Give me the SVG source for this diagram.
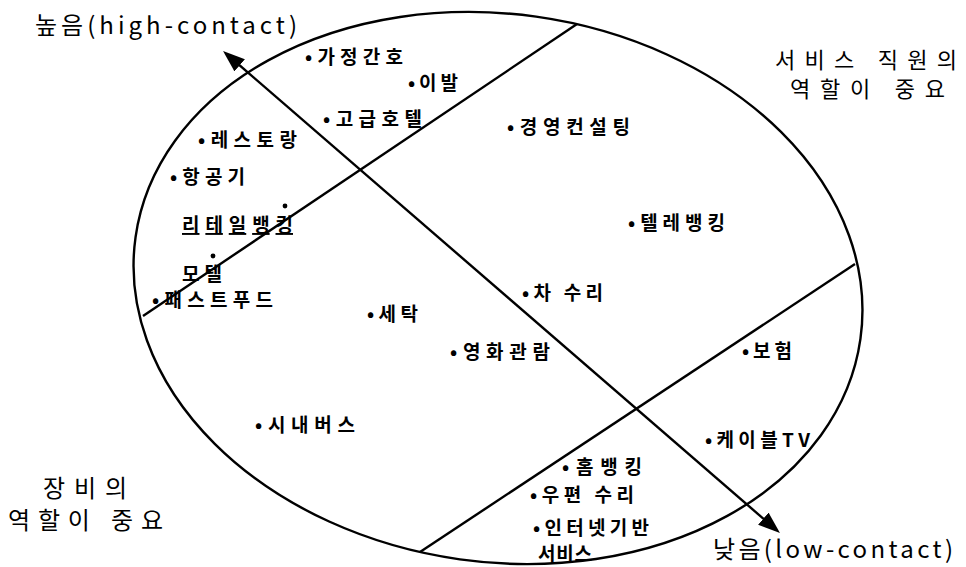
<svg xmlns="http://www.w3.org/2000/svg" width="966" height="567" viewBox="0 0 966 567">
<style>
.bg{fill:#fff}
.edge{fill:none;stroke:#000;stroke-width:2.4}
.item{font-family:"Noto Sans CJK KR","Noto Sans",sans-serif;font-size:19px;font-weight:700;fill:#000}
.corner{font-family:"Noto Sans CJK KR","Noto Sans",sans-serif;font-size:24px;font-weight:400;fill:#000}
.corner2{font-family:"Noto Sans CJK KR","Noto Sans",sans-serif;font-size:22px;font-weight:400;fill:#000}
.dot{fill:#000}
</style>
<defs>
<marker id="arr" markerUnits="userSpaceOnUse" viewBox="0 0 22 16" markerWidth="22" markerHeight="16" refX="12" refY="8" orient="auto-start-reverse">
<path d="M0,0 L22,8 L0,16 z" fill="#000"/>
</marker>
</defs>
<rect class="bg" x="0" y="0" width="966" height="567"/>
<ellipse class="edge" cx="498" cy="288" rx="366" ry="274" transform="rotate(8 498 288)"/>
<g id="connectors">
<line class="edge" x1="143" y1="316" x2="577" y2="24"/>
<line class="edge" x1="420" y1="552" x2="855" y2="264"/>
<line class="edge" x1="230.6" y1="57.5" x2="772.4" y2="526.5" marker-start="url(#arr)" marker-end="url(#arr)"/>
</g>
<g id="label-high"><text class="corner" x="35" y="34" textLength="262" lengthAdjust="spacing">높음(high-contact)</text></g>
<g id="label-low"><text class="corner" x="713" y="558" textLength="240" lengthAdjust="spacing">낮음(low-contact)</text></g>
<g id="label-staff">
<text class="corner2" x="775" y="68" textLength="182" lengthAdjust="spacing">서비스 직원의</text>
<text class="corner2" x="790" y="97" textLength="155" lengthAdjust="spacing">역할이 중요</text>
</g>
<g id="label-equipment">
<text class="corner" x="43" y="497" textLength="84" lengthAdjust="spacing">장비의</text>
<text class="corner" x="8" y="529" textLength="155" lengthAdjust="spacing">역할이 중요</text>
</g>
<g id="n-home-nursing"><text class="item" x="305" y="64" textLength="98" lengthAdjust="spacing">•가정간호</text></g>
<g id="n-barber"><text class="item" x="408" y="90" textLength="50" lengthAdjust="spacing">•이발</text></g>
<g id="n-hotel"><text class="item" x="323" y="126" textLength="99" lengthAdjust="spacing">•고급호텔</text></g>
<g id="n-consulting"><text class="item" x="507" y="134" textLength="123" lengthAdjust="spacing">•경영컨설팅</text></g>
<g id="n-restaurant"><text class="item" x="198" y="147" textLength="99" lengthAdjust="spacing">•레스토랑</text></g>
<g id="n-airline"><text class="item" x="170" y="184" textLength="75" lengthAdjust="spacing">•항공기</text></g>
<g id="n-retail-banking"><circle class="dot" cx="285" cy="206" r="2.4"/><text class="item" x="182" y="232" textLength="111" lengthAdjust="spacing" text-decoration="underline">리테일뱅킹</text></g>
<g id="n-motel"><circle class="dot" cx="213" cy="256" r="2.4"/><text class="item" x="182" y="281" font-size="18" textLength="40" lengthAdjust="spacing">모텔</text></g>
<g id="n-fastfood"><text class="item" x="152" y="307" textLength="121" lengthAdjust="spacing">•패스트푸드</text></g>
<g id="n-laundry"><text class="item" x="367" y="321" textLength="51" lengthAdjust="spacing">•세탁</text></g>
<g id="n-telebanking"><text class="item" x="628" y="230" textLength="97" lengthAdjust="spacing">•텔레뱅킹</text></g>
<g id="n-car-repair"><text class="item" x="522" y="300" textLength="81" lengthAdjust="spacing">•차 수리</text></g>
<g id="n-movie"><text class="item" x="450" y="359" textLength="100" lengthAdjust="spacing">•영화관람</text></g>
<g id="n-insurance"><text class="item" x="742" y="358" textLength="50" lengthAdjust="spacing">•보험</text></g>
<g id="n-cable-tv"><text class="item" x="705" y="447" textLength="105" lengthAdjust="spacing">•케이블TV</text></g>
<g id="n-city-bus"><text class="item" x="255" y="432" textLength="100" lengthAdjust="spacing">•시내버스</text></g>
<g id="n-home-banking"><text class="item" x="562" y="474" textLength="80" lengthAdjust="spacing">•홈뱅킹</text></g>
<g id="n-postal-repair"><text class="item" x="530" y="502" textLength="104" lengthAdjust="spacing">•우편 수리</text></g>
<g id="n-internet">
<text class="item" x="533" y="535" textLength="116" lengthAdjust="spacing">•인터넷기반</text>
<text class="item" x="538" y="561" textLength="54" lengthAdjust="spacing">서비스</text>
</g>
</svg>
